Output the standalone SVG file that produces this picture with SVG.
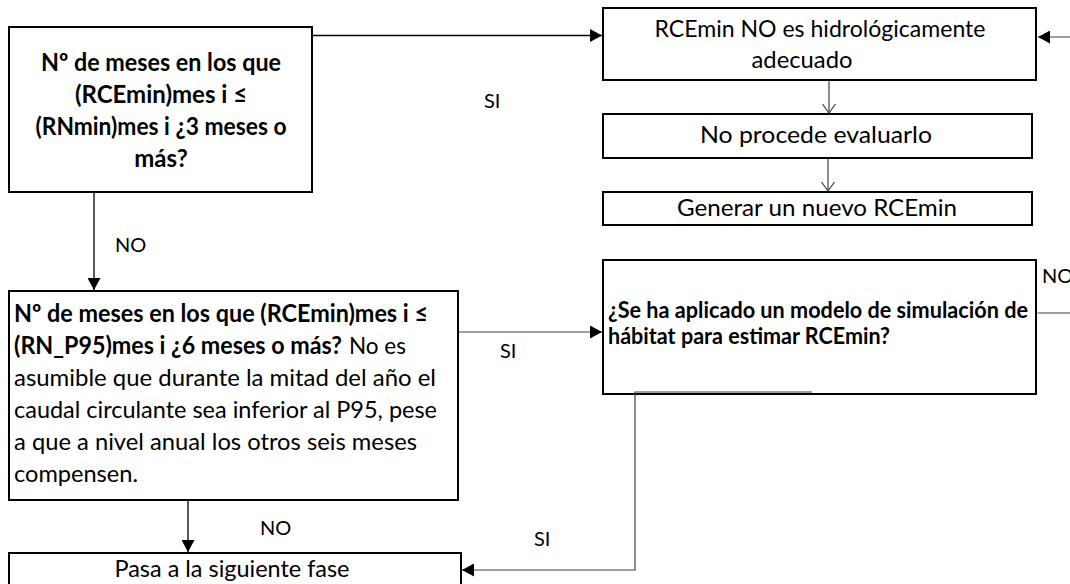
<svg xmlns="http://www.w3.org/2000/svg" width="1070" height="584" viewBox="0 0 1070 584">
<style>
.box{fill:#fff;stroke:#000;stroke-width:2}
.t{font-family:Lato,"Open Sans","Liberation Sans",sans-serif;fill:#000}
.b{font-weight:700;font-size:24px}
.r{font-weight:400;font-size:24px}
.b5{font-weight:700;font-size:22px}
.lab{font-family:Lato,"Open Sans","Liberation Sans",sans-serif;font-size:20px;fill:#000}
.c{fill:none;stroke:#000;stroke-width:1.3}
.cg{fill:none;stroke:#404040;stroke-width:1.2}
</style>
<defs>
<marker id="ah" markerUnits="userSpaceOnUse" markerWidth="13" markerHeight="13" refX="12" refY="6.5" orient="auto">
<path d="M0,0 L12,6.5 L0,13 z" fill="#000"/>
</marker>
<marker id="av" markerUnits="userSpaceOnUse" markerWidth="12" markerHeight="14" refX="9" refY="6.5" orient="auto">
<path d="M0,0 L9,6.5 L0,13" fill="none" stroke="#404040" stroke-width="1.2"/>
</marker>
</defs>

<g id="n1">
<rect class="box" x="9" y="27" width="303" height="165"/>
<text class="t b" x="161" y="71" text-anchor="middle" textLength="240" lengthAdjust="spacingAndGlyphs">Nº de meses en los que</text>
<text class="t b" x="161" y="103" text-anchor="middle">(RCEmin)mes i ≤</text>
<text class="t b" x="161" y="135" text-anchor="middle" textLength="251" lengthAdjust="spacingAndGlyphs">(RNmin)mes i ¿3 meses o</text>
<text class="t b" x="161" y="167" text-anchor="middle">más?</text>
</g>

<g id="n2">
<rect class="box" x="603" y="8" width="433" height="72"/>
<text class="t r" x="820" y="37" text-anchor="middle" textLength="331" lengthAdjust="spacingAndGlyphs">RCEmin NO es hidrológicamente</text>
<text class="t r" x="802" y="68" text-anchor="middle" textLength="101" lengthAdjust="spacingAndGlyphs">adecuado</text>
</g>

<g id="n3">
<rect class="box" x="603" y="114" width="429" height="44"/>
<text class="t r" x="816" y="143" text-anchor="middle" textLength="232" lengthAdjust="spacingAndGlyphs">No procede evaluarlo</text>
</g>

<g id="n4">
<rect class="box" x="603" y="192" width="429" height="33"/>
<text class="t r" x="817" y="216" text-anchor="middle" textLength="280" lengthAdjust="spacingAndGlyphs">Generar un nuevo RCEmin</text>
</g>

<g id="n5">
<rect class="box" x="9" y="291" width="449" height="209"/>
<text class="t b" x="14" y="322" textLength="414" lengthAdjust="spacingAndGlyphs">Nº de meses en los que (RCEmin)mes i ≤</text>
<text class="t b" x="14" y="354" textLength="328" lengthAdjust="spacingAndGlyphs">(RN_P95)mes i ¿6 meses o más?</text>
<text class="t r" x="349" y="354" textLength="57" lengthAdjust="spacingAndGlyphs">No es</text>
<text class="t r" x="14" y="386" textLength="422" lengthAdjust="spacingAndGlyphs">asumible que durante la mitad del año el</text>
<text class="t r" x="14" y="418" textLength="423" lengthAdjust="spacingAndGlyphs">caudal circulante sea inferior al P95, pese</text>
<text class="t r" x="14" y="450" textLength="403" lengthAdjust="spacingAndGlyphs">a que a nivel anual los otros seis meses</text>
<text class="t r" x="14" y="482" textLength="124" lengthAdjust="spacingAndGlyphs">compensen.</text>
</g>

<g id="n6">
<rect class="box" x="603" y="260" width="433" height="134" stroke-width="2.5"/>
<text class="t b5" x="608" y="318" textLength="420" lengthAdjust="spacingAndGlyphs">¿Se ha aplicado un modelo de simulación de</text>
<text class="t b5" x="608" y="344" textLength="282" lengthAdjust="spacingAndGlyphs">hábitat para estimar RCEmin?</text>
</g>

<g id="n7">
<rect class="box" x="9" y="553" width="452" height="40"/>
<text class="t r" x="232" y="577" text-anchor="middle" textLength="235" lengthAdjust="spacingAndGlyphs">Pasa a la siguiente fase</text>
</g>

<g id="connectors">
<line class="c" x1="313" y1="35.5" x2="602" y2="35.5" marker-end="url(#ah)"/>
<line class="c" x1="94" y1="193" x2="94" y2="290" marker-end="url(#ah)"/>
<line class="cg" x1="829" y1="81" x2="829" y2="113" marker-end="url(#av)"/>
<line class="cg" x1="828" y1="159" x2="828" y2="191" marker-end="url(#av)"/>
<line class="cg" x1="459" y1="332" x2="602" y2="332" marker-end="url(#ah)"/>
<line class="c" x1="188" y1="501" x2="188" y2="552" marker-end="url(#ah)"/>
<polyline class="cg" points="812,392 635,392 635,570 462,570" marker-end="url(#ah)"/>
<polyline class="cg" points="1037.5,313 1080,313 1080,37 1038,37" marker-end="url(#ah)"/>
<text class="lab" x="484" y="108">SI</text>
<text class="lab" x="115" y="252">NO</text>
<text class="lab" x="500" y="358">SI</text>
<text class="lab" x="260" y="535">NO</text>
<text class="lab" x="534" y="546">SI</text>
<text class="lab" x="1042" y="283">NO</text>
</g>
</svg>
